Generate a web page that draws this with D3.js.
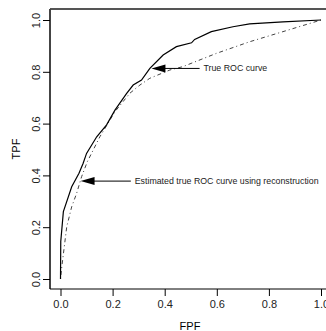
<!DOCTYPE html>
<html>
<head>
<meta charset="utf-8">
<script src="https://cdn.jsdelivr.net/npm/d3@7"></script>
<style>
  body { margin: 0; background: #fff; }
  text { font-family: "Liberation Sans", Arial, sans-serif; }
</style>
</head>
<body>
<div id="chart"></div>
<script>
// true ROC curve (solid)
var trueFPF = [0, 0.001, 0.011, 0.043, 0.071, 0.087, 0.1, 0.139, 0.177, 0.209, 0.254, 0.279, 0.311, 0.343, 0.394, 0.445, 0.503, 0.515, 0.579, 0.662, 0.726, 0.854, 1.0];
var trueTPF = [0, 0.145, 0.26, 0.356, 0.408, 0.447, 0.485, 0.549, 0.595, 0.652, 0.717, 0.749, 0.768, 0.813, 0.865, 0.897, 0.912, 0.925, 0.955, 0.974, 0.985, 0.993, 1.0];

// estimated curve from reconstruction (dot-dash)
var estFPF = [0, 0.005, 0.024, 0.043, 0.062, 0.081, 0.103, 0.151, 0.209, 0.266, 0.305, 0.343, 0.42, 0.47, 0.598, 0.726, 0.854, 1.0];
var estTPF = [0, 0.047, 0.202, 0.279, 0.331, 0.395, 0.453, 0.549, 0.646, 0.717, 0.749, 0.775, 0.807, 0.82, 0.871, 0.916, 0.955, 1.0];

var tickValues = [0, 0.2, 0.4, 0.6, 0.8, 1.0];

// annotations: arrow tip (x,y), tail x, label
var notes = [
  { label: "True ROC curve", tipX: 0.349, tipY: 0.813, tailX: 0.534, textX: 0.549 },
  { label: "Estimated true ROC curve using reconstruction", tipX: 0.077, tipY: 0.378, tailX: 0.27, textX: 0.285 }
];

var svgWidth = 326, svgHeight = 331;

var svg = d3.select("#chart").append("svg")
  .attr("width", svgWidth)
  .attr("height", svgHeight);

var x = d3.scaleLinear().domain([0, 1]).range([60.5, 321]);
var y = d3.scaleLinear().domain([0, 1]).range([279, 20]);

// frame (right side falls outside the page)
svg.append("line").attr("x1", 50).attr("x2", 331).attr("y1", 9).attr("y2", 9)
  .attr("stroke", "#555").attr("stroke-width", 1.8);
svg.append("line").attr("x1", 50).attr("x2", 50).attr("y1", 9).attr("y2", 289)
  .attr("stroke", "#444").attr("stroke-width", 2);
svg.append("line").attr("x1", 50).attr("x2", 331).attr("y1", 289).attr("y2", 289)
  .attr("stroke", "#000").attr("stroke-width", 1);

// x axis
var xAxis = svg.append("g").attr("transform", "translate(0,289)")
  .call(d3.axisBottom(x).tickValues(tickValues).tickFormat(d3.format(".1f")).tickSize(7).tickPadding(4));
xAxis.select(".domain").remove();
xAxis.selectAll("text").attr("font-size", "11px").attr("fill", "#222")
  .style("font-family", "Liberation Sans, Arial, sans-serif");

// y axis
var yAxis = svg.append("g").attr("transform", "translate(50,0)")
  .call(d3.axisLeft(y).tickValues(tickValues).tickFormat(d3.format(".1f")).tickSize(7));
yAxis.select(".domain").remove();
yAxis.selectAll("text").remove();
yAxis.selectAll(".tick").append("text")
  .attr("transform", "translate(-10,0) rotate(-90)")
  .attr("text-anchor", "middle")
  .attr("font-size", "11px")
  .attr("fill", "#222")
  .text(d => d3.format(".1f")(d));

// axis titles
svg.append("text")
  .attr("x", 190).attr("y", 330)
  .attr("text-anchor", "middle")
  .attr("font-size", "11px")
  .text("FPF");

svg.append("text")
  .attr("transform", "translate(20,149) rotate(-90)")
  .attr("text-anchor", "middle")
  .attr("font-size", "11px")
  .text("TPF");

// curves
var line = d3.line().x(d => x(d[0])).y(d => y(d[1]));

svg.append("path")
  .datum(d3.zip(estFPF, estTPF))
  .attr("d", line)
  .attr("fill", "none")
  .attr("stroke", "#444")
  .attr("stroke-width", 1)
  .attr("stroke-dasharray", "1,3,4,3");

svg.append("path")
  .datum(d3.zip(trueFPF, trueTPF))
  .attr("d", line)
  .attr("fill", "none")
  .attr("stroke", "#000")
  .attr("stroke-width", 1.2);

// arrows + labels
notes.forEach(function(n) {
  var tx = x(n.tipX), ty = y(n.tipY);
  svg.append("line")
    .attr("x1", tx + 12).attr("y1", ty)
    .attr("x2", x(n.tailX)).attr("y2", ty)
    .attr("stroke", "#000").attr("stroke-width", 1);
  svg.append("path")
    .attr("d", `M${tx},${ty} L${tx + 14},${ty - 4} L${tx + 14},${ty + 4} Z`)
    .attr("fill", "#000");
  svg.append("text")
    .attr("x", x(n.textX)).attr("y", ty + 3)
    .attr("font-size", "8.8px")
    .attr("fill", "#222")
    .text(n.label);
});
</script>
</body>
</html>
